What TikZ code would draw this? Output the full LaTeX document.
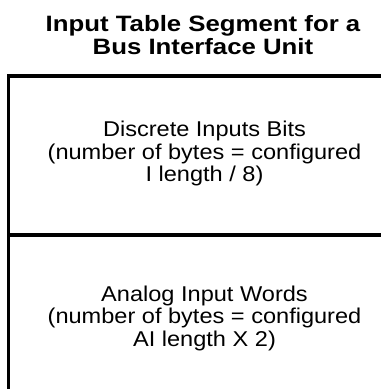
\documentclass[tikz,border=0pt]{standalone}
\usepackage{fontspec}
\setmainfont{Liberation Sans}
\newfontfamily\titlefont[FakeStretch=1.16]{Liberation Sans}
\newfontfamily\cellfont[FakeStretch=1.10]{Liberation Sans}
\usetikzlibrary{positioning}
\definecolor{ink}{HTML}{000000}
\definecolor{paper}{HTML}{FFFFFF}

\begin{document}
\begin{tikzpicture}[x=1bp,y=-1bp]
 \tikzstyle{heading}=[align=center,anchor=north,font=\titlefont\bfseries\fontsize{22.3}{23}\selectfont,text=ink,inner sep=0pt]
 \tikzstyle{celltext}=[align=center,anchor=north,font=\cellfont\fontsize{21.5}{22.7}\selectfont,text=ink,inner sep=0pt]
 \tikzstyle{rule}=[draw=ink,line width=3.6bp]
 \useasboundingbox[fill=paper] (0,0) rectangle (381,389);
 \coordinate (topleft) at (8.5,76);
 \coordinate (topright) at (390,76);
 \coordinate (midleft) at (8.5,235);
 \coordinate (midright) at (390,235);
 \coordinate (bottomleft) at (8.5,395);
 \node[heading] (title) at (203,15.5) {Input Table Segment for a\\Bus Interface Unit};
 \node[celltext] (discrete) at (204.5,121) {Discrete Inputs Bits\\(number of bytes = configured\\I length / 8)};
 \node[celltext] (analog) at (204.5,285.5) {Analog Input Words\\(number of bytes = configured\\AI length X 2)};
 \draw[rule] (bottomleft) -- (topleft) -- (topright);
 \draw[rule] (midleft) -- (midright);
\end{tikzpicture}
\end{document}
